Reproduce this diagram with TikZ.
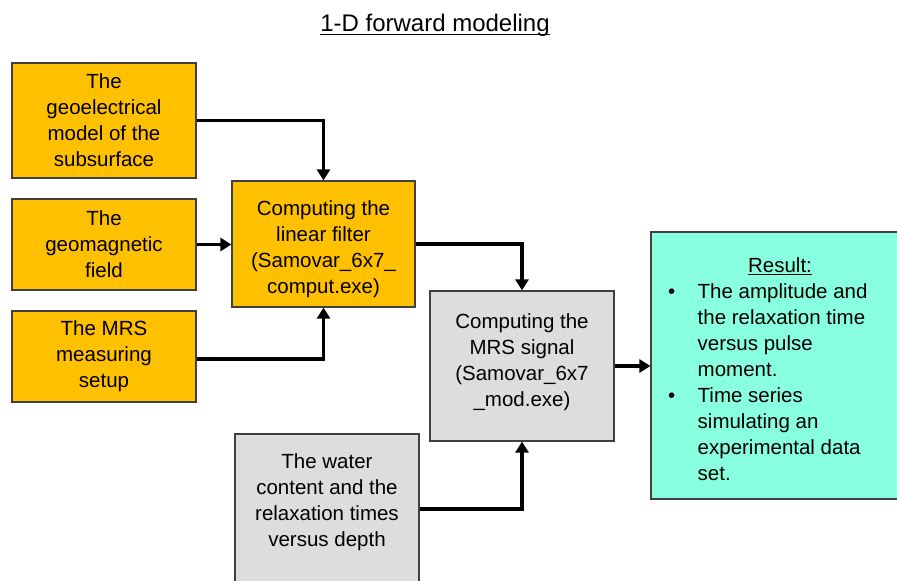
\documentclass[tikz,border=0pt]{standalone}
\usepackage{fontspec}
\setmainfont{Liberation Sans}
\usetikzlibrary{arrows.meta}
\definecolor{boxorange}{HTML}{FFC000}
\definecolor{boxgray}{HTML}{DDDDDD}
\definecolor{boxgreen}{HTML}{88FFDE}
\definecolor{edgegray}{HTML}{404040}
\begin{document}
\begin{tikzpicture}[x=1pt,y=-1pt,
  bodyfont/.style={font=\fontsize{20.5}{26}\selectfont},
  box/.style={draw=edgegray, line width=1.2pt, rectangle, inner sep=0pt,
    align=center, bodyfont, minimum width=184pt},
  orangebox/.style={box, fill=boxorange},
  graybox/.style={box, fill=boxgray},
  greenbox/.style={box, fill=boxgreen},
  boxtext/.style={bodyfont, align=center, inner sep=0pt},
  flow/.style={draw=black, line width=3.3pt,
    -{Triangle[length=11pt,width=13pt]}}
]
\clip (0,0) rectangle (897,581);

% title
\node[inner sep=0pt, anchor=base, font=\fontsize{24}{28}\selectfont]
  (title) at (435,31) {1-D forward modeling};
\draw[line width=1pt] ([yshift=-3pt]title.base west) -- ([yshift=-3pt]title.base east);

% input boxes
\node[orangebox, minimum height=115pt] (geo) at (104,120.5)
  {The\\geoelectrical\\model of the\\subsurface};
\node[orangebox, minimum height=91pt] (mag) at (104,244.5)
  {The\\geomagnetic\\field};
\node[orangebox, minimum height=91pt] (setup) at (104,356.5)
  {The MRS\\measuring\\setup};

% processing boxes
\node[orangebox, minimum width=183pt, minimum height=126pt] (filter) at (323.5,244) {};
\node[boxtext] (filtertext) at (323.5,249)
  {Computing the\\linear filter\\(Samovar\_6x7\_\\comput.exe)};
\node[graybox, minimum height=150pt] (signal) at (522,366) {};
\node[boxtext] (signaltext) at (522,362)
  {Computing the\\MRS signal\\(Samovar\_6x7\\\_mod.exe)};
\node[graybox, minimum height=150pt] (water) at (327,509) {};
\node[boxtext] (watertext) at (327,502)
  {The water\\content and the\\relaxation times\\versus depth};

% result box
\node[greenbox, minimum width=259pt, minimum height=267pt] (result) at (780.5,365.5) {};
\node[bodyfont, inner sep=0pt, anchor=base] (restitle) at (780,272) {Result:};
\draw[line width=1pt] ([yshift=-2.5pt]restitle.base west) -- ([yshift=-2.5pt]restitle.base east);
\node[bodyfont, inner sep=0pt, anchor=base west] (reslist) at (668,298)
  {\begin{tabular}[t]{@{}p{29.5pt}@{}l@{}}
   • & The amplitude and\\
     & the relaxation time\\
     & versus pulse\\
     & moment.\\
   • & Time series\\
     & simulating an\\
     & experimental data\\
     & set.
   \end{tabular}};

% connectors
\draw[flow] (geo.east) -| (filter.north);
\draw[flow] (mag.east) -- (mag.east -| filter.west);
\draw[flow] ([yshift=-2.5pt]setup.east) -| (filter.south);
\draw[flow] (filter.east) -| (signal.north);
\draw[flow] (signal.east) -- (signal.east -| result.west);
\draw[flow] (water.east) -| (signal.south);
\end{tikzpicture}
\end{document}
